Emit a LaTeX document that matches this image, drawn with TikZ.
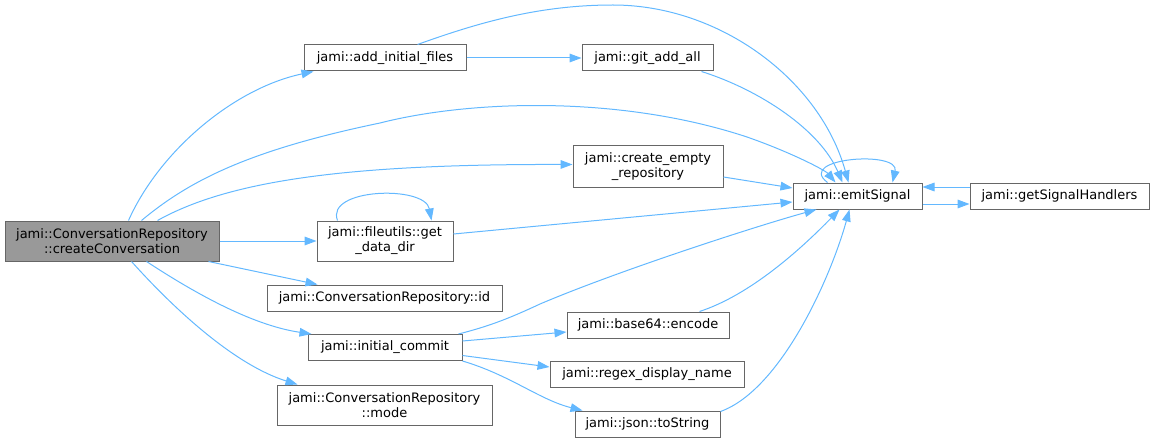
\documentclass[tikz,border=0pt]{standalone}
\usepackage{fontspec}
\setmainfont{DejaVu Sans}
\usetikzlibrary{arrows.meta,calc}
\definecolor{edgec}{RGB}{99,184,255}
\definecolor{bord}{RGB}{102,102,102}
\definecolor{mainfill}{RGB}{153,153,153}
\tikzset{
  box/.style={draw=bord, line width=0.75pt, rectangle, inner sep=0pt, align=center,
    font=\fontsize{9.75}{11.25}\selectfont, text=black},
  sz/.style 2 args={minimum width=#1*0.75pt, minimum height=#2*0.75pt},
  edge/.style={draw=edgec, line width=0.75pt, -{Triangle[length=9pt,width=6.5pt]}}
}
\begin{document}
\begin{tikzpicture}[x=0.75pt,y=-0.75pt]
\useasboundingbox (0,0) rectangle (1155,442);
% nodes
\node[box, sz={214}{40}, fill=mainfill] (C) at (112,241) {jami::ConversationRepository\\::createConversation};
\node[box, sz={162}{26}] (AIF) at (385,58) {jami::add\_initial\_files};
\node[box, sz={131}{26}] (GAA) at (647.5,58) {jami::git\_add\_all};
\node[box, sz={150}{41}] (CER) at (648,166.5) {jami::create\_empty\\\_repository};
\node[box, sz={136}{40}] (GDD) at (385,241) {jami::fileutils::get\\\_data\_dir};
\node[box, sz={129}{26}] (ES) at (857.5,196) {jami::emitSignal};
\node[box, sz={179}{26}] (GSH) at (1059.5,196) {jami::getSignalHandlers};
\node[box, sz={235}{26}] (ID) at (384.5,298) {jami::ConversationRepository::id};
\node[box, sz={154}{26}] (IC) at (385,347.5) {jami::initial\_commit};
\node[box, sz={162}{26}] (B64) at (648,325) {jami::base64::encode};
\node[box, sz={194}{26}] (RDN) at (647,374) {jami::regex\_display\_name};
\node[box, sz={145}{26}] (JSON) at (647.5,424) {jami::json::toString};
\node[box, sz={215}{40}] (MODE) at (384.5,405) {jami::ConversationRepository\\::mode};
% edges from C
\draw[edge] ($(C.north west)+(124,0)$) .. controls (160,150) and (235,88) .. ($(AIF.south west)+(10,0)$);
\draw[edge] ($(C.north west)+(137,0)$) .. controls (190,180) and (250,150) .. (380,123)
   .. controls (470,100) and (620,95) .. (747,137)
   .. controls (790,152) and (825,170) .. ($(ES.north west)+(43,0)$);
\draw[edge] ($(C.north west)+(153,0)$) .. controls (230,180) and (350,164) .. ($(CER.west)+(0,-2)$);
\draw[edge] (C.east) -- (GDD.west);
\draw[edge] ($(C.south east)+(-11,0)$) -- ($(ID.north west)+(51,0)$);
\draw[edge] ($(C.south west)+(142,0)$) .. controls (190,290) and (250,325) .. ($(IC.north west)+(4,0)$);
\draw[edge] ($(C.south west)+(127,0)$) .. controls (175,310) and (235,365) .. ($(MODE.north west)+(21,0)$);
% add_initial_files
\draw[edge] (AIF.east) -- (GAA.west);
\draw[edge] ($(AIF.north west)+(114,0)$) .. controls (480,22) and (540,5) .. (613,5)
   .. controls (720,5) and (820,80) .. ($(ES.north west)+(56,0)$);
% git_add_all
\draw[edge] ($(GAA.south west)+(120,0)$) .. controls (760,90) and (820,130) .. ($(ES.north west)+(50,0)$);
% create_empty_repository
\draw[edge] ($(CER.east)+(0,10.5)$) -- ($(ES.west)+(0,-8)$);
% get_data_dir
\draw[edge] ($(GDD.east)+(0,-7)$) -- ($(ES.west)+(0,6)$);
\draw[edge] ($(GDD.north west)+(21,0)$) .. controls (325,188) and (425,185) .. ($(GDD.north west)+(115,0)$);
% emitSignal
\draw[edge] ($(ES.north west)+(35,0)$) .. controls (795,158) and (900,150) .. ($(ES.north west)+(100,0)$);
\draw[edge] ($(ES.east)+(0,8)$) -- ($(GSH.west)+(0,8)$);
\draw[edge] ($(GSH.west)+(0,-9)$) -- ($(ES.east)+(0,-9)$);
% initial_commit
\draw[edge] ($(IC.north east)+(-4,0)$) .. controls (490,326) and (510,318) .. (540,304)
   .. controls (620,270) and (760,225) .. ($(ES.south west)+(24,0)$);
\draw[edge] ($(IC.east)+(0,-6.5)$) -- ($(B64.west)+(0,7)$);
\draw[edge] ($(IC.east)+(0,8)$) -- ($(RDN.west)+(0,-7)$);
\draw[edge] (IC.south east) .. controls (510,375) and (540,400) .. ($(JSON.north west)+(8,0)$);
% base64 / json
\draw[edge] ($(B64.north west)+(133,0)$) .. controls (750,295) and (800,250) .. ($(ES.south west)+(47,0)$);
\draw[edge] ($(JSON.north east)+(0,1)$) .. controls (780,390) and (830,280) .. ($(ES.south west)+(57,0)$);
\end{tikzpicture}
\end{document}
